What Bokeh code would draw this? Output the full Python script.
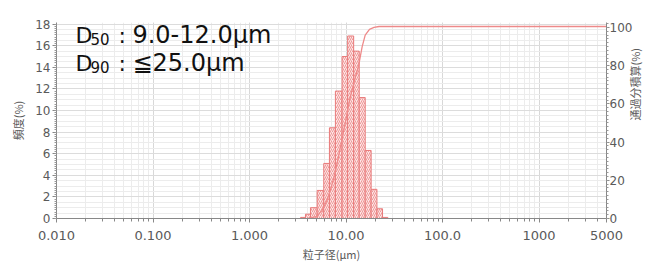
import math
from bokeh.plotting import figure
from bokeh.models import (Range1d, LinearAxis, FixedTicker, SingleIntervalTicker,
                          Label, LogTicker)
from bokeh.embed import file_html
from bokeh.resources import INLINE

# ---- data ----
bin_edges = [3.38, 3.80, 4.28, 5.02, 5.88, 6.73, 7.76, 9.10, 10.4, 12.0,
             13.7, 15.8, 18.2, 20.9, 23.9, 27.1]
frequency = [0.1, 0.4, 1.0, 2.6, 5.1, 8.4, 11.8, 15.0, 16.9, 15.5,
             11.2, 6.3, 2.7, 0.9, 0.1]
cum_size = [4.0, 4.9, 5.6, 6.3, 7.0, 7.8, 8.8, 9.9, 11.0, 12.2, 13.5,
            14.7, 15.8, 17.5, 19.5, 22.0, 5000.0]
cum_pct = [0.0, 1.0, 4.0, 9.0, 16.0, 25.0, 38.0, 51.0, 63.0, 72.0, 80.0,
           90.0, 96.0, 99.0, 100.0, 100.5, 100.5]
x_ticks = [0.01, 0.1, 1, 10, 100, 1000, 5000]
x_tick_labels = ["0.010", "0.100", "1.000", "10.00", "100.0", "1000", "5000"]

FONT = "DejaVu Sans"
JP = "Noto Sans CJK JP"
TXT = "#5a5a5a"

p = figure(width=654, height=264, x_axis_type="log",
           x_range=Range1d(0.01, 5000), y_range=Range1d(0, 18.15),
           output_backend="svg", toolbar_location=None,
           min_border_left=56, min_border_right=46, min_border_top=22,
           min_border_bottom=46)
p.outline_line_color = None
p.background_fill_color = "white"
p.extra_y_ranges = {"cum": Range1d(0, 102.6)}

# grids
p.xgrid.ticker = LogTicker(mantissas=[1], num_minor_ticks=10)
p.xgrid.grid_line_color = "#d8d8d8"
p.xgrid.minor_grid_line_color = "#ececec"
p.ygrid.ticker = SingleIntervalTicker(interval=2, num_minor_ticks=4)
p.ygrid.grid_line_color = "#dcdcdc"
p.ygrid.minor_grid_line_color = "#ececec"

# x axis
minor = []
for d in range(-2, 4):
    for m in range(2, 10):
        v = m * 10 ** d
        if v < 5000:
            minor.append(v)
xa = p.xaxis[0]
xa.ticker = FixedTicker(ticks=x_ticks, minor_ticks=minor)
xa.major_label_overrides = {t: l for t, l in zip(x_ticks, x_tick_labels)}
xa.axis_label = "粒子径(µm)"
xa.axis_label_text_font = JP
xa.axis_label_text_font_style = "normal"
xa.axis_label_text_font_size = "11px"
xa.axis_label_text_color = TXT
xa.axis_label_standoff = 3
xa.major_label_text_font = FONT
xa.major_label_text_font_size = "13px"
xa.major_label_text_color = TXT
xa.major_label_standoff = 8
xa.axis_line_color = "#888888"
xa.major_tick_line_color = "#888888"
xa.minor_tick_line_color = "#888888"
xa.major_tick_in = 0
xa.major_tick_out = 4
xa.minor_tick_in = 0
xa.minor_tick_out = 3

# left axis
ya = p.yaxis[0]
ya.ticker = SingleIntervalTicker(interval=2, num_minor_ticks=10)
ya.axis_label = "頻度(%)"
ya.axis_label_text_font = JP
ya.axis_label_text_font_style = "normal"
ya.axis_label_text_font_size = "11px"
ya.axis_label_text_color = TXT
ya.axis_label_standoff = 6
ya.major_label_text_font = FONT
ya.major_label_text_font_size = "12px"
ya.major_label_text_color = TXT
ya.major_label_standoff = 2
ya.axis_line_color = "#888888"
ya.major_tick_line_color = "#888888"
ya.minor_tick_line_color = "#999999"
ya.major_tick_in = 0
ya.major_tick_out = 4
ya.minor_tick_in = 0
ya.minor_tick_out = 2

# right axis
ra = LinearAxis(y_range_name="cum",
                ticker=SingleIntervalTicker(interval=20, num_minor_ticks=10))
ra.axis_label = "通過分積算(%)"
ra.axis_label_text_font = JP
ra.axis_label_text_font_style = "normal"
ra.axis_label_text_font_size = "11px"
ra.axis_label_text_color = TXT
ra.axis_label_standoff = 0
try:
    ra.axis_label_orientation = math.pi / 2
except Exception:
    pass
ra.major_label_text_font = FONT
ra.major_label_text_font_size = "12px"
ra.major_label_text_color = TXT
ra.major_label_standoff = 0
ra.axis_line_color = "#888888"
ra.major_tick_line_color = "#888888"
ra.minor_tick_line_color = "#999999"
ra.major_tick_in = 0
ra.major_tick_out = 3
ra.minor_tick_in = 0
ra.minor_tick_out = 2
p.add_layout(ra, "right")

# bars
p.quad(left=bin_edges[:-1], right=bin_edges[1:], top=frequency, bottom=0,
       fill_color="#fde6e6", line_color="#e87a7a", line_width=1,
       hatch_pattern="/", hatch_color="#ec9090", hatch_scale=4,
       hatch_weight=0.9)

# cumulative curve
p.line(cum_size, cum_pct, y_range_name="cum", line_color="#ee8a8a",
       line_width=1.3)

# annotation
ax = 0.0157
for yb, sub, val in [(16.98, "50", "9.0-12.0µm"), (14.39, "90", "≦25.0µm")]:
    p.add_layout(Label(x=ax, y=yb, text="D", text_font=FONT,
                       text_font_size="22px", text_color="#111111",
                       text_baseline="alphabetic", text_align="left"))
    p.add_layout(Label(x=ax, y=yb, x_offset=15, y_offset=-4, text=sub,
                       text_font=FONT, text_font_size="15px",
                       text_color="#111111", text_baseline="alphabetic",
                       text_align="left"))
    p.add_layout(Label(x=ax, y=yb, x_offset=43, text=":",
                       text_font=FONT, text_font_size="22px",
                       text_color="#111111", text_baseline="alphabetic",
                       text_align="left"))
    p.add_layout(Label(x=ax, y=yb, x_offset=57, text=val,
                       text_font=FONT, text_font_size="24px",
                       text_color="#111111", text_baseline="alphabetic",
                       text_align="left"))

open("out.html", "w").write(file_html(p, INLINE))
